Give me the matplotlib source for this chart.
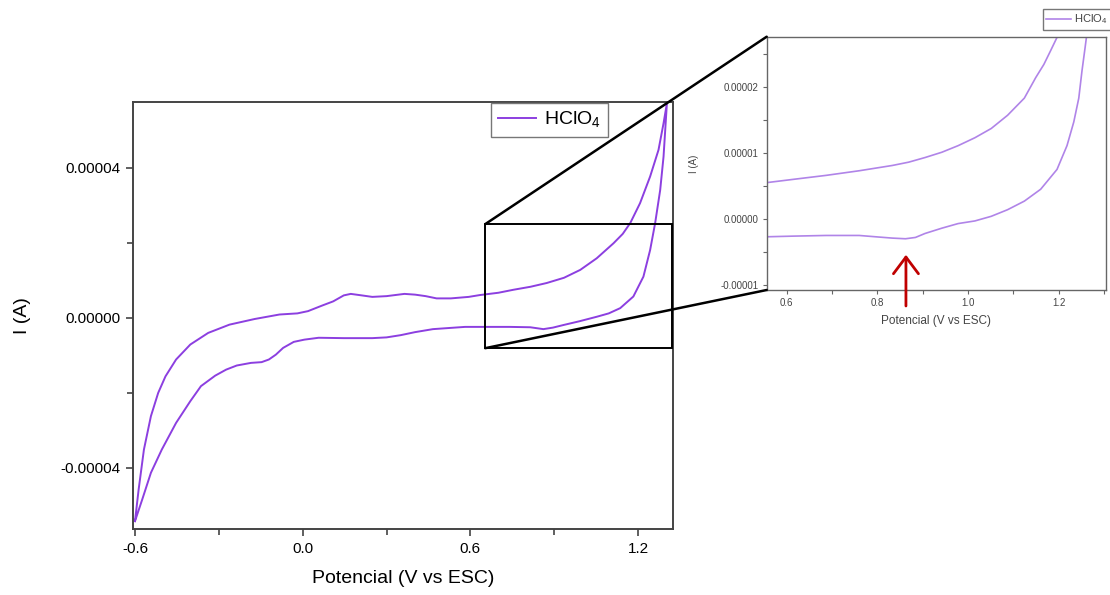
import numpy as np
import matplotlib
matplotlib.use("Agg")
import matplotlib.pyplot as plt
from matplotlib.patches import Rectangle, ConnectionPatch
from matplotlib.ticker import MultipleLocator, FormatStrFormatter

plt.rcParams['font.family'] = ['Liberation Sans', 'DejaVu Sans']
plt.rcParams['mathtext.fontset'] = 'custom'
plt.rcParams['mathtext.rm'] = 'Liberation Sans'

# Voltamperograma HClO4 - barrido de ida (V vs ESC, corriente en 1e-5 A)
potencial_ida = [-0.600, -0.587, -0.568, -0.543, -0.517, -0.491, -0.453, -0.402, -0.338, -0.262,
                 -0.172, -0.083, -0.019, 0.019, 0.070, 0.109, 0.147, 0.172, 0.211, 0.249,
                 0.300, 0.364, 0.402, 0.440, 0.479, 0.530, 0.594, 0.635, 0.700, 0.754,
                 0.815, 0.873, 0.935, 0.993, 1.052, 1.112, 1.145, 1.172, 1.207, 1.243,
                 1.273, 1.291, 1.303]
corriente_ida = [-5.42, -4.58, -3.51, -2.62, -2.00, -1.56, -1.11, -0.71, -0.40, -0.18,
                 -0.03, 0.09, 0.12, 0.18, 0.33, 0.44, 0.60, 0.64, 0.60, 0.56,
                 0.58, 0.64, 0.62, 0.58, 0.52, 0.52, 0.56, 0.61, 0.67, 0.75,
                 0.83, 0.93, 1.07, 1.28, 1.59, 1.99, 2.24, 2.53, 3.06, 3.77,
                 4.48, 5.19, 5.72]

# barrido de vuelta
potencial_vuelta = [1.297, 1.291, 1.279, 1.261, 1.243, 1.219, 1.183, 1.136, 1.095, 1.052,
                    0.990, 0.933, 0.895, 0.861, 0.814, 0.740, 0.657, 0.581, 0.504, 0.466,
                    0.402, 0.351, 0.300, 0.249, 0.147, 0.057, 0.006, -0.032, -0.070, -0.096,
                    -0.121, -0.147, -0.185, -0.236, -0.274, -0.313, -0.364, -0.402, -0.453, -0.504,
                    -0.543, -0.574, -0.600]
corriente_vuelta = [5.01, 4.30, 3.41, 2.53, 1.81, 1.10, 0.57, 0.26, 0.12, 0.03,
                    -0.09, -0.19, -0.26, -0.30, -0.25, -0.24, -0.24, -0.24, -0.28, -0.30,
                    -0.38, -0.46, -0.52, -0.54, -0.54, -0.53, -0.58, -0.64, -0.80, -0.98,
                    -1.11, -1.18, -1.20, -1.27, -1.38, -1.54, -1.82, -2.22, -2.80, -3.51,
                    -4.13, -4.84, -5.42]

# Ampliacion (inset), corriente en 1e-5 A
zoom_pot_sup = [0.556, 0.615, 0.687, 0.760, 0.833, 0.869, 0.905, 0.942, 0.978, 1.015,
                1.051, 1.087, 1.124, 1.145, 1.149, 1.167, 1.182, 1.196, 1.204]
zoom_cor_sup = [0.55, 0.60, 0.66, 0.73, 0.81, 0.86, 0.93, 1.01, 1.11, 1.23,
                1.37, 1.57, 1.83, 2.09, 2.14, 2.34, 2.55, 2.75, 2.86]
zoom_pot_inf = [0.556, 0.615, 0.687, 0.760, 0.796, 0.833, 0.862, 0.884, 0.905, 0.942,
                0.978, 1.015, 1.051, 1.087, 1.124, 1.160, 1.196, 1.218, 1.233, 1.244,
                1.251, 1.258, 1.262]
zoom_cor_inf = [-0.27, -0.26, -0.25, -0.25, -0.27, -0.29, -0.30, -0.28, -0.22, -0.14,
                -0.07, -0.03, 0.04, 0.14, 0.27, 0.45, 0.75, 1.11, 1.47, 1.83,
                2.24, 2.60, 2.81]

# minimo marcado con la flecha (V, A)
pico_pot = 0.863
pico_cor = -0.5e-5

color_main = '#8c3fe0'
color_zoom = '#b084e8'

pot = np.array(potencial_ida + potencial_vuelta)
cor = np.array(corriente_ida + corriente_vuelta) * 1e-5

fig = plt.figure(figsize=(11.1, 5.95), dpi=100)
ax = fig.add_axes([0.1201, 0.1109, 0.4865, 0.7185])
ax.plot(pot, cor, color=color_main, lw=1.4, label=r'HClO$_\mathregular{4}$')
ax.set_xlim(-0.606, 1.326)
ax.set_ylim(-5.63e-5, 5.77e-5)
ax.xaxis.set_major_locator(MultipleLocator(0.6))
ax.xaxis.set_minor_locator(MultipleLocator(0.3))
ax.xaxis.set_major_formatter(FormatStrFormatter('%.1f'))
ax.yaxis.set_major_locator(MultipleLocator(4e-5))
ax.yaxis.set_minor_locator(MultipleLocator(2e-5))
ax.yaxis.set_major_formatter(FormatStrFormatter('%.5f'))
ax.tick_params(which='major', direction='out', length=5, width=1.2, labelsize=11, pad=4, color='#444')
ax.tick_params(which='minor', direction='out', length=4, width=1.2, color='#444')
for s in ax.spines.values():
    s.set_color('#444')
    s.set_linewidth(1.4)
ax.set_xlabel('Potencial (V vs ESC)', fontsize=14)
ax.set_ylabel('I (A)', fontsize=14)
ax.xaxis.set_label_coords(0.5, -0.095)
ax.yaxis.set_label_coords(-0.19, 0.5)
leg = ax.legend(loc='upper left', bbox_to_anchor=(0.662, 0.997), borderaxespad=0,
                fancybox=False, fontsize=14, handlelength=2.0, borderpad=0.35,
                handletextpad=0.4, framealpha=1)
leg.get_frame().set_edgecolor('#777')
leg.get_frame().set_linewidth(1.0)

# rectangulo de la zona ampliada
rx0, rx1, ry0, ry1 = 0.653, 1.322, -0.808e-5, 2.5e-5
ax.add_patch(Rectangle((rx0, ry0), rx1 - rx0, ry1 - ry0, fill=False, ec='black', lw=1.4, zorder=3))

# inset
axin = fig.add_axes([0.6907, 0.5126, 0.3057, 0.4257])
axin.plot(zoom_pot_sup, np.array(zoom_cor_sup) * 1e-5, color=color_zoom, lw=1.2, label=r'HClO$_\mathregular{4}$')
axin.plot(zoom_pot_inf, np.array(zoom_cor_inf) * 1e-5, color=color_zoom, lw=1.2)
axin.set_xlim(0.556, 1.304)
axin.set_ylim(-1.076e-5, 2.76e-5)
axin.xaxis.set_major_locator(MultipleLocator(0.2))
axin.xaxis.set_minor_locator(MultipleLocator(0.1))
axin.xaxis.set_major_formatter(FormatStrFormatter('%.1f'))
axin.yaxis.set_major_locator(MultipleLocator(1e-5))
axin.yaxis.set_minor_locator(MultipleLocator(0.5e-5))
axin.yaxis.set_major_formatter(FormatStrFormatter('%.5f'))
axin.tick_params(which='both', direction='out', length=3, width=0.8, labelsize=7,
                 pad=3, color='#666', labelcolor='#444')
for s in axin.spines.values():
    s.set_color('#666')
    s.set_linewidth(1.0)
axin.set_xlabel('Potencial (V vs ESC)', fontsize=8.5, color='#444')
axin.set_ylabel('I (A)', fontsize=7, color='#444')
axin.xaxis.set_label_coords(0.5, -0.1)
axin.yaxis.set_label_coords(-0.2, 0.5)
leg2 = axin.legend(loc='upper left', bbox_to_anchor=(0.814, 1.108), borderaxespad=0,
                   fancybox=False, fontsize=8, handlelength=2.2, borderpad=0.3,
                   handletextpad=0.3, framealpha=1)
leg2.get_frame().set_edgecolor('#777')
leg2.get_frame().set_linewidth(1.0)
for t in leg2.get_texts():
    t.set_color('#444')

axin.annotate('', xy=(pico_pot, pico_cor), xytext=(pico_pot, -1.36e-5),
              arrowprops=dict(arrowstyle='->,head_width=0.45,head_length=0.6',
                              color='#c00000', lw=2, mutation_scale=20),
              annotation_clip=False)

# lineas de conexion
for yA, yB in [(ry1, 1), (ry0, 0)]:
    con = ConnectionPatch(xyA=(rx0, yA), coordsA=ax.transData,
                          xyB=(0, yB), coordsB=axin.transAxes,
                          color='black', lw=1.8)
    fig.add_artist(con)

fig.savefig('out.png', dpi=100)
